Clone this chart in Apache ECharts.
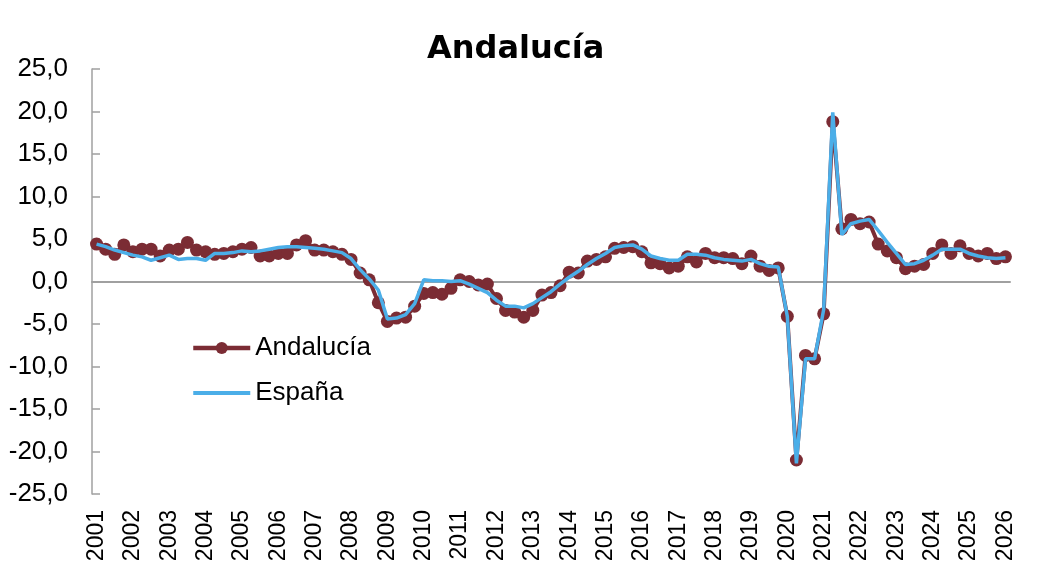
<!DOCTYPE html>
<html><head><meta charset="utf-8">
<script src="https://cdn.jsdelivr.net/npm/echarts@6/dist/echarts.min.js"></script>
<style>html,body{margin:0;padding:0;background:#fff}#c{width:1048px;height:588px}</style>
</head><body><div id="c"></div>
<script>
const years = [2001,2002,2003,2004,2005,2006,2007,2008,2009,2010,2011,2012,2013,2014,2015,2016,2017,2018,2019,2020,2021,2022,2023,2024,2025,2026];
const quarters = ['T1','T2','T3','T4'];
const andalucia = [
  4.4, 3.8, 3.2, 4.3, 3.5, 3.8, 3.8, 3.0, 3.7, 3.8, 4.6, 3.7, 3.5, 3.2, 3.3, 3.5, 3.8, 4.0, 3.0, 3.0,
  3.3, 3.3, 4.3, 4.8, 3.7, 3.7, 3.5, 3.2, 2.6, 1.0, 0.2, -2.5, -4.7, -4.3, -4.2, -2.9, -1.4, -1.3, -1.5, -0.8,
  0.2, 0.0, -0.4, -0.3, -2.0, -3.4, -3.6, -4.2, -3.4, -1.6, -1.3, -0.5, 1.1, 1.0, 2.4, 2.6, 2.9, 3.9, 4.0, 4.1,
  3.5, 2.2, 2.1, 1.6, 1.8, 2.9, 2.3, 3.3, 2.8, 2.8, 2.7, 2.1, 3.0, 1.8, 1.3, 1.6, -4.1, -21.0, -8.7, -9.1,
  -3.8, 18.8, 6.2, 7.3, 6.8, 7.0, 4.4, 3.6, 2.8, 1.5, 1.8, 2.0, 3.3, 4.3, 3.3, 4.2, 3.3, 3.0, 3.3, 2.7, 2.9
];
const espana = [
  4.4, 4.1, 3.7, 3.4, 3.1, 2.9, 2.5, 2.8, 3.1, 2.6, 2.7, 2.7, 2.5, 3.3, 3.3, 3.4, 3.6, 3.5, 3.6, 3.8,
  4.0, 4.1, 4.1, 4.0, 3.9, 3.8, 3.6, 3.4, 2.7, 1.4, 0.3, -1.0, -4.4, -4.3, -3.9, -2.6, 0.2, 0.1, 0.1, 0.0,
  0.1, -0.3, -0.8, -1.3, -2.2, -2.9, -2.9, -3.1, -2.6, -1.9, -1.2, -0.3, 0.5, 1.2, 2.0, 2.7, 3.3, 4.0, 4.2, 4.3,
  3.8, 3.0, 2.7, 2.5, 2.5, 3.2, 3.2, 3.1, 2.8, 2.6, 2.5, 2.4, 2.6, 2.1, 1.8, 1.7, -4.1, -21.4, -9.1, -9.1,
  -3.3, 19.9, 5.5, 6.8, 7.1, 7.3, 6.0, 4.6, 3.3, 2.0, 2.1, 2.5, 3.1, 3.8, 3.8, 3.8, 3.3, 3.0, 2.8, 2.7, 2.8
];
const categories = [];
years.forEach(y => quarters.forEach(q => categories.push(y + q)));
categories.length = andalucia.length;

const font = 'Liberation Sans, Arial, sans-serif';
const gray = '#A0A0A0';
const red = '#7B2C34';
const blue = '#4BAEE8';
const chart = echarts.init(document.getElementById('c'), null, {renderer: 'canvas'});
chart.setOption({
  animation: false,
  backgroundColor: '#fff',
  title: {
    text: 'Andalucía', left: 427, top: 34, padding: 0,
    textStyle: {fontFamily: 'DejaVu Sans', fontWeight: 'bold', fontSize: 32, color: '#000'}
  },
  legend: {
    data: [
      {name: 'Andalucía', lineStyle: {width: 4.5}},
      {name: 'España', lineStyle: {width: 4}, itemStyle: {opacity: 0}}
    ],
    orient: 'vertical', left: 191, top: 333, padding: 0,
    itemWidth: 57, itemHeight: 15, itemGap: 15,
    textStyle: {fontFamily: font, fontSize: 26, lineHeight: 30, color: '#000'}
  },
  grid: {left: 92, right: 38, top: 69, bottom: 94, containLabel: false},
  xAxis: [{
    type: 'category', data: categories, boundaryGap: true,
    axisLine: {show: false, onZero: false},
    axisTick: {show: false},
    axisLabel: {
      interval: (idx) => idx % 4 === 0,
      formatter: v => v.slice(0, 4),
      rotate: 90, fontSize: 23, color: '#000', fontFamily: font, margin: 16
    },
    splitLine: {show: false}
  }, {
    type: 'category', data: categories, boundaryGap: true,
    axisLine: {show: true, onZero: true, lineStyle: {color: gray, width: 2}},
    axisTick: {show: false}, axisLabel: {show: false}, splitLine: {show: false}
  }],
  yAxis: {
    type: 'value', min: -25, max: 25, interval: 5,
    axisLine: {show: true, lineStyle: {color: gray, width: 1.5}},
    axisTick: {show: true, inside: true, length: 8, lineStyle: {color: gray, width: 1.5}},
    axisLabel: {
      formatter: v => v.toFixed(1).replace('.', ','),
      fontSize: 26, color: '#000', fontFamily: font, margin: 24
    },
    splitLine: {show: false}
  },
  series: [{
    name: 'Andalucía', type: 'line', data: andalucia, xAxisIndex: 0,
    symbol: 'circle', symbolSize: 13, showAllSymbol: true,
    lineStyle: {color: red, width: 4},
    itemStyle: {color: red}, z: 2
  }, {
    name: 'España', type: 'line', data: espana, xAxisIndex: 0,
    symbol: 'none',
    lineStyle: {color: blue, width: 3.5},
    itemStyle: {color: blue}, z: 3
  }]
});
</script></body></html>
